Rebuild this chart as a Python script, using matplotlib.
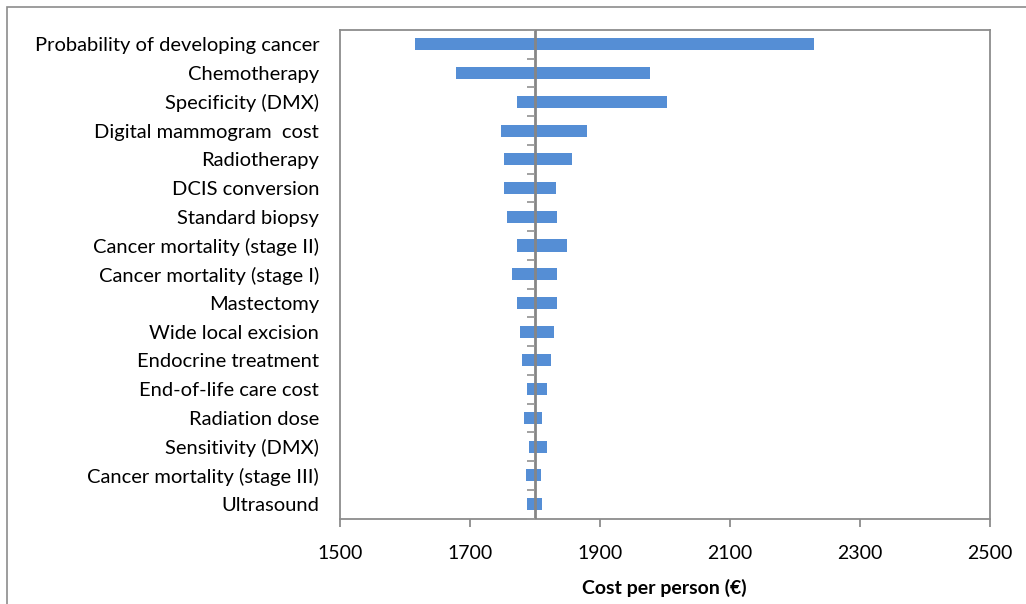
import numpy as np
import matplotlib.pyplot as plt
from matplotlib.patches import Rectangle

plt.rcParams['font.family'] = ['Lato', 'DejaVu Sans']

# one-way sensitivity analysis, cost per person (EUR)
params = ['Probability of developing cancer', 'Chemotherapy', 'Specificity (DMX)',
          'Digital mammogram  cost', 'Radiotherapy', 'DCIS conversion',
          'Standard biopsy', 'Cancer mortality (stage II)', 'Cancer mortality (stage I)',
          'Mastectomy', 'Wide local excision', 'Endocrine treatment',
          'End-of-life care cost', 'Radiation dose', 'Sensitivity (DMX)',
          'Cancer mortality (stage III)', 'Ultrasound']
low = [1615, 1678, 1772, 1748, 1752, 1752, 1757, 1772, 1765, 1772,
       1777, 1780, 1788, 1783, 1791, 1786, 1788]
high = [2230, 1977, 2003, 1880, 1857, 1832, 1834, 1849, 1834, 1834,
        1829, 1825, 1818, 1811, 1818, 1809, 1811]
base = 1800
xticks = [1500, 1700, 1900, 2100, 2300, 2500]

low = np.array(low)
high = np.array(high)
ypos = np.arange(len(params))

fig = plt.figure(figsize=(10.26, 6.04), dpi=100)
ax = fig.add_axes([340/1026, 1 - 518.5/604, 649.5/1026, 488.5/604])

# outer chart frame
fig.patches.append(Rectangle((7/1026, -0.1), 1.2, 1 - 7/604 + 0.1, transform=fig.transFigure,
                             fill=False, edgecolor='#8c8c8c', lw=1.2))

ax.barh(ypos, base - low, left=low, height=0.42, color='#558ed5', zorder=2)
ax.barh(ypos, high - base, left=base, height=0.42, color='#558ed5', zorder=2)

# category axis crossing at the base value
ax.axvline(base, color='#868686', lw=2, zorder=3)
bounds = np.arange(len(params) + 1) - 0.5
ax.plot([base] * len(bounds), bounds, ls='none', marker=0, ms=6, mew=1.3,
        color='#9a9a9a', zorder=3)

ax.set_xlim(1500, 2500)
ax.set_ylim(len(params) - 0.5, -0.5)
ax.set_xticks(xticks)
ax.set_yticks(ypos)
ax.set_yticklabels(params)
ax.tick_params(axis='y', length=0, pad=15, labelsize=14.5)
ax.tick_params(axis='x', direction='out', length=6, width=1.3, color='#8c8c8c',
               pad=13, labelsize=14)

for s in ax.spines.values():
    s.set_color('#8c8c8c')
    s.set_linewidth(1.3)

ax.set_xlabel('Cost per person (€)', fontsize=14, fontweight='bold', labelpad=12)

fig.savefig('out.png', dpi=100)
